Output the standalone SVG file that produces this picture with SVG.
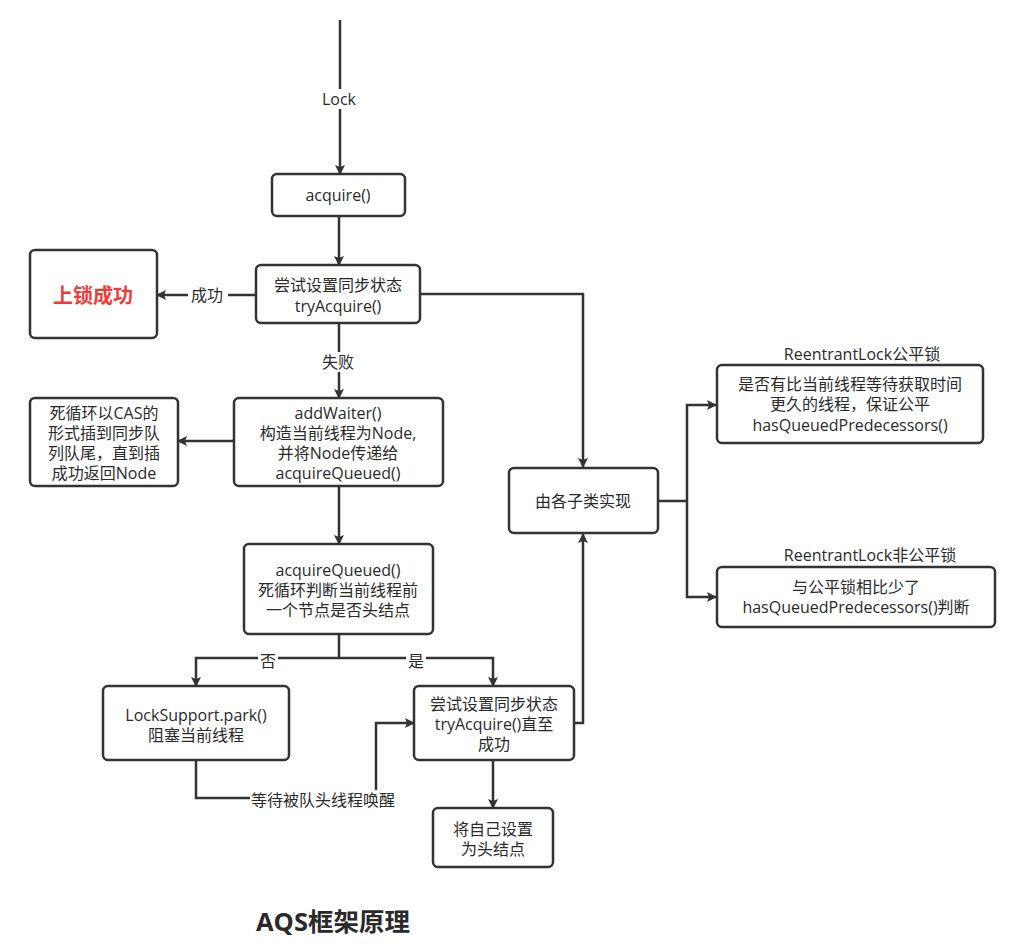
<svg xmlns="http://www.w3.org/2000/svg" width="1019" height="952" viewBox="0 0 1019 952">
<defs>
<marker id="ah" viewBox="0 0 10 10" refX="9" refY="5" markerWidth="10" markerHeight="10" markerUnits="userSpaceOnUse" orient="auto">
<path d="M0,0 L10,5 L0,10 L2,5 Z" fill="#333"/>
</marker>
<style>
.box{fill:#fff;stroke:#333;stroke-width:2.5}
.c{fill:none;stroke:#333;stroke-width:2.5;marker-end:url(#ah)}
.l{fill:none;stroke:#333;stroke-width:2.5}
text{font-family:"Open Sans","Noto Sans CJK SC",sans-serif;font-size:16px;fill:#2a2a2a;text-anchor:middle}
.lbl{fill:#fff;stroke:none}
</style>
</defs>
<rect width="1019" height="952" fill="#fff"/>
<g id="connectors">
<path class="c" d="M340,20 V174"/>
<rect class="lbl" x="318" y="89" width="44" height="20"/>
<text x="339" y="105">Lock</text>
<path class="c" d="M339,216 V265"/>
<path class="c" d="M256,295 H157"/>
<rect class="lbl" x="188" y="285" width="40" height="20"/>
<text x="207" y="301">成功</text>
<path class="c" d="M420,294 H583 V467"/>
<path class="c" d="M339,323 V398"/>
<rect class="lbl" x="320" y="352" width="38" height="20"/>
<text x="338" y="368">失败</text>
<path class="c" d="M234,441 H178"/>
<path class="c" d="M339,486 V544"/>
<path class="l" d="M339,634 V658"/>
<path class="c" d="M339,658 H196 V686"/>
<path class="c" d="M339,658 H493 V686"/>
<rect class="lbl" x="258" y="652" width="20" height="18"/>
<text x="268" y="667">否</text>
<rect class="lbl" x="406" y="652" width="20" height="18"/>
<text x="416" y="667">是</text>
<path class="c" d="M196,760 V798 H376 V723 H414"/>
<rect class="lbl" x="250" y="790" width="150" height="20"/>
<text x="323" y="806">等待被队头线程唤醒</text>
<path class="c" d="M493,760 V808"/>
<path class="c" d="M574,723 H583 V534"/>
<path class="l" d="M658,501 H687"/>
<path class="c" d="M687,501 V405 H716"/>
<path class="c" d="M687,501 V597 H716"/>
<text x="862" y="360">ReentrantLock公平锁</text>
<text x="870" y="561">ReentrantLock非公平锁</text>
</g>
<g id="acquire">
<rect class="box" x="272" y="174" width="133" height="42" rx="5"/>
<text x="338" y="201">acquire()</text>
</g>
<g id="tryAcquire">
<rect class="box" x="256" y="265" width="164" height="58" rx="5"/>
<text x="338" y="291">尝试设置同步状态</text>
<text x="338" y="312">tryAcquire()</text>
</g>
<g id="success">
<rect class="box" x="30" y="250" width="127" height="88" rx="5"/>
<text x="93" y="303" style="font-size:20px;font-weight:bold;fill:#ef3b3b">上锁成功</text>
</g>
<g id="addWaiter">
<rect class="box" x="234" y="398" width="209" height="88" rx="5"/>
<text x="338" y="419">addWaiter()</text>
<text x="338" y="439">构造当前线程为Node,</text>
<text x="338" y="459">并将Node传递给</text>
<text x="338" y="479">acquireQueued()</text>
</g>
<g id="casLoop">
<rect class="box" x="30" y="398" width="148" height="88" rx="5"/>
<text x="104" y="419">死循环以CAS的</text>
<text x="104" y="439">形式插到同步队</text>
<text x="104" y="459">列队尾，直到插</text>
<text x="104" y="479">成功返回Node</text>
</g>
<g id="acquireQueued">
<rect class="box" x="244" y="544" width="189" height="90" rx="5"/>
<text x="338" y="576">acquireQueued()</text>
<text x="338" y="596">死循环判断当前线程前</text>
<text x="338" y="616">一个节点是否头结点</text>
</g>
<g id="park">
<rect class="box" x="103" y="686" width="186" height="74" rx="5"/>
<text x="196" y="721">LockSupport.park()</text>
<text x="196" y="741">阻塞当前线程</text>
</g>
<g id="tryAcquireLoop">
<rect class="box" x="414" y="686" width="160" height="74" rx="5"/>
<text x="494" y="710">尝试设置同步状态</text>
<text x="494" y="730">tryAcquire()直至</text>
<text x="494" y="750">成功</text>
</g>
<g id="setHead">
<rect class="box" x="433" y="808" width="120" height="59" rx="5"/>
<text x="493" y="835">将自己设置</text>
<text x="493" y="855">为头结点</text>
</g>
<g id="subclass">
<rect class="box" x="509" y="468" width="149" height="65" rx="5"/>
<text x="583" y="507">由各子类实现</text>
</g>
<g id="fair">
<rect class="box" x="717" y="365" width="266" height="78" rx="5"/>
<text x="850" y="390">是否有比当前线程等待获取时间</text>
<text x="850" y="410">更久的线程，保证公平</text>
<text x="850" y="431">hasQueuedPredecessors()</text>
</g>
<g id="unfair">
<rect class="box" x="717" y="567" width="278" height="60" rx="5"/>
<text x="856" y="593">与公平锁相比少了</text>
<text x="856" y="613">hasQueuedPredecessors()判断</text>
</g>
<g id="title">
<text x="333" y="931" style="font-size:25.5px;font-weight:bold">AQS框架原理</text>
</g>
</svg>
